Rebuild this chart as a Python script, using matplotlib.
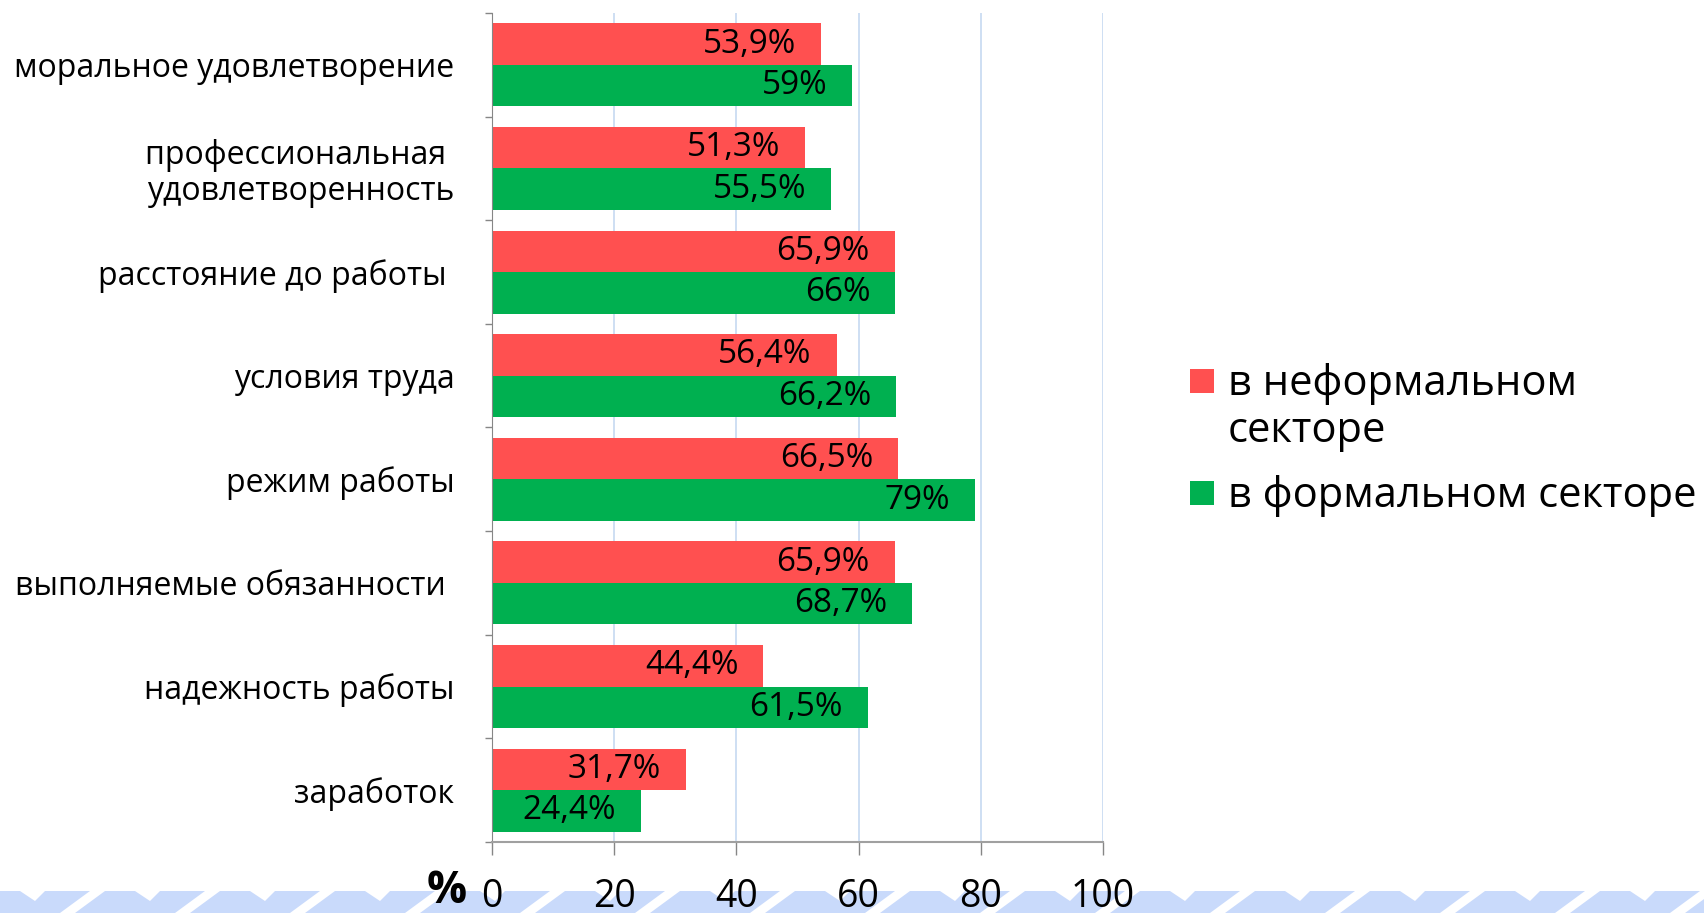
import matplotlib
matplotlib.use("Agg")
import matplotlib.pyplot as plt
from matplotlib.patches import Rectangle, Polygon

categories = ["моральное удовлетворение",
              "профессиональная \nудовлетворенность",
              "расстояние до работы ",
              "условия труда",
              "режим работы",
              "выполняемые обязанности ",
              "надежность работы",
              "заработок"]
informal = [53.9, 51.3, 65.9, 56.4, 66.5, 65.9, 44.4, 31.7]
formal = [59, 55.5, 66, 66.2, 79, 68.7, 61.5, 24.4]
informal_labels = ["53,9%", "51,3%", "65,9%", "56,4%", "66,5%", "65,9%", "44,4%", "31,7%"]
formal_labels = ["59%", "55,5%", "66%", "66,2%", "79%", "68,7%", "61,5%", "24,4%"]
series_names = ["в неформальном\nсекторе", "в формальном секторе"]
series_colors = ["#FF5050", "#00B050"]
xticks = [0, 20, 40, 60, 80, 100]
xlabel = "%"

W, H = 1704, 913
fig = plt.figure(figsize=(W / 100, H / 100), dpi=100)
plt.rcParams['font.family'] = ['Open Sans', 'DejaVu Sans']

# decorative band at the bottom
band = fig.add_axes([0, 0, 1, 22 / H])
band.set_xlim(0, W)
band.set_ylim(0, 22)
band.axis('off')
band.add_patch(Rectangle((0, 0), W, 22, color="#C9DAFB", lw=0))
for x0 in range(0, W, 115):
    band.add_patch(Polygon([[x0 + 60, 0], [x0 + 75, 0], [x0 + 105, 22], [x0 + 90, 22]],
                           closed=True, color="white", lw=0))
    band.add_patch(Polygon([[x0 + 20, 22], [x0 + 45, 22], [x0 + 35, 12]],
                           closed=True, color="white", lw=0))
band.set_zorder(0)

ax = fig.add_axes([492 / W, 1 - 842 / H, (1103 - 492) / W, (842 - 13) / H])
ax.set_zorder(1)
ax.patch.set_alpha(0)

n = len(categories)
ys = list(range(n))
h = 0.4
ax.barh([y - h / 2 for y in ys], informal, height=h, color=series_colors[0], zorder=2)
ax.barh([y + h / 2 for y in ys], formal, height=h, color=series_colors[1], zorder=2)

for y, v, t in zip(ys, informal, informal_labels):
    ax.annotate(t, xy=(v, y - h / 2), xytext=(-18, 0), textcoords='offset points',
                ha='right', va='center', fontsize=24, color='black', zorder=3)
for y, v, t in zip(ys, formal, formal_labels):
    ax.annotate(t, xy=(v, y + h / 2), xytext=(-18, 0), textcoords='offset points',
                ha='right', va='center', fontsize=24, color='black', zorder=3)

ax.set_xlim(0, 100)
ax.set_ylim(n - 0.5, -0.5)
ax.set_xticks(xticks)
ax.set_xticklabels([str(t) for t in xticks], fontsize=27)
ax.xaxis.grid(True, color="#C6D9F1", lw=1.2, zorder=0)
ax.set_axisbelow(True)
ax.tick_params(axis='x', length=9, width=1, color="#868686", pad=17)

ax.set_yticks(ys)
ax.set_yticklabels(categories, fontsize=23, linespacing=1.1)
ax.set_yticks([y - 0.5 for y in range(n + 1)], minor=True)
ax.tick_params(axis='y', which='major', length=0, pad=27)
ax.tick_params(axis='y', which='minor', length=5, width=1, color="#868686")

for s in ['top', 'right']:
    ax.spines[s].set_visible(False)
ax.spines['left'].set_color("#868686")
ax.spines['bottom'].set_color("#A0A0A0")
ax.spines['bottom'].set_linewidth(1.5)

fig.text(467 / W, 1 - 891 / H, xlabel, fontsize=32, fontweight='bold',
         ha='right', va='center')

# legend
leg_y = [381, 493]
for c, name, yc in zip(series_colors, series_names, leg_y):
    fig.add_artist(Rectangle((1190 / W, 1 - (yc + 12) / H), 24 / W, 24 / H,
                             transform=fig.transFigure, color=c, lw=0))
    fig.text(1228 / W, 1 - (yc - 18) / H, name, fontsize=30, ha='left', va='top',
             linespacing=1.17)

fig.savefig("out.png", dpi=100)
